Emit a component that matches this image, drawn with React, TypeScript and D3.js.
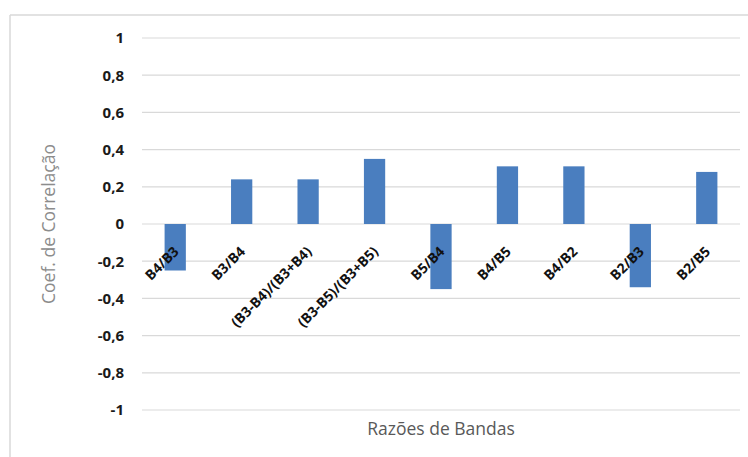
import React from "react";
import * as d3 from "d3";

const categories = [
  "B4/B3",
  "B3/B4",
  "(B3-B4)/(B3+B4)",
  "(B3-B5)/(B3+B5)",
  "B5/B4",
  "B4/B5",
  "B4/B2",
  "B2/B3",
  "B2/B5",
];
const values = [-0.25, 0.24, 0.24, 0.35, -0.35, 0.31, 0.31, -0.34, 0.28];
const yTicks = [1, 0.8, 0.6, 0.4, 0.2, 0, -0.2, -0.4, -0.6, -0.8, -1];

const W = 748;
const H = 457;
const plot = { left: 142, right: 740, top: 38, bottom: 410 };

const fmt = (v: number) => (Math.round(v * 10) / 10).toString().replace(".", ",");

export default function App() {
  const x = d3
    .scaleBand<string>()
    .domain(categories)
    .range([plot.left, plot.right])
    .paddingInner(0.68)
    .paddingOuter(0.34);
  const y = d3.scaleLinear().domain([-1, 1]).range([plot.bottom, plot.top]);

  return (
    <svg
      width={W}
      height={H}
      style={{ position: "absolute", left: 0, top: 0, background: "#fff" }}
      fontFamily="'Open Sans', Calibri, sans-serif"
    >
      {/* chart frame */}
      <line x1={10} x2={W} y1={15} y2={15} stroke="#d9d9d9" strokeWidth={1.5} />
      <line x1={10} x2={10} y1={15} y2={H} stroke="#d9d9d9" strokeWidth={1.5} />

      {/* gridlines and tick labels */}
      {yTicks.map((t) => (
        <g key={t}>
          <line
            x1={plot.left}
            x2={plot.right}
            y1={y(t)}
            y2={y(t)}
            stroke="#d9d9d9"
            strokeWidth={1.2}
          />
          <text
            x={124}
            y={y(t)}
            dy="0.36em"
            textAnchor="end"
            fontSize={15}
            fontWeight={700}
            fill="#1a1a1a"
          >
            {fmt(t)}
          </text>
        </g>
      ))}

      {/* bars */}
      {categories.map((c, i) => {
        const v = values[i];
        return (
          <rect
            key={c}
            x={x(c)}
            width={x.bandwidth()}
            y={Math.min(y(v), y(0))}
            height={Math.abs(y(v) - y(0))}
            fill="#4a7ebf"
          />
        );
      })}

      {/* category labels */}
      {categories.map((c) => {
        const cx = (x(c) as number) + x.bandwidth() / 2 + 1;
        const cy = y(0) + 25;
        return (
          <text
            key={c}
            transform={`translate(${cx},${cy}) rotate(-45)`}
            textAnchor="end"
            dy="0.35em"
            fontSize={14}
            fontWeight={700}
            fill="#111"
          >
            {c}
          </text>
        );
      })}

      {/* axis titles */}
      <text
        transform={`translate(55,${y(0)}) rotate(-90)`}
        textAnchor="middle"
        fontSize={17.5}
        fill="#8c8c8c"
      >
        Coef. de Correlação
      </text>
      <text x={441} y={435} textAnchor="middle" fontSize={17.5} fill="#595959">
        Razões de Bandas
      </text>
    </svg>
  );
}
